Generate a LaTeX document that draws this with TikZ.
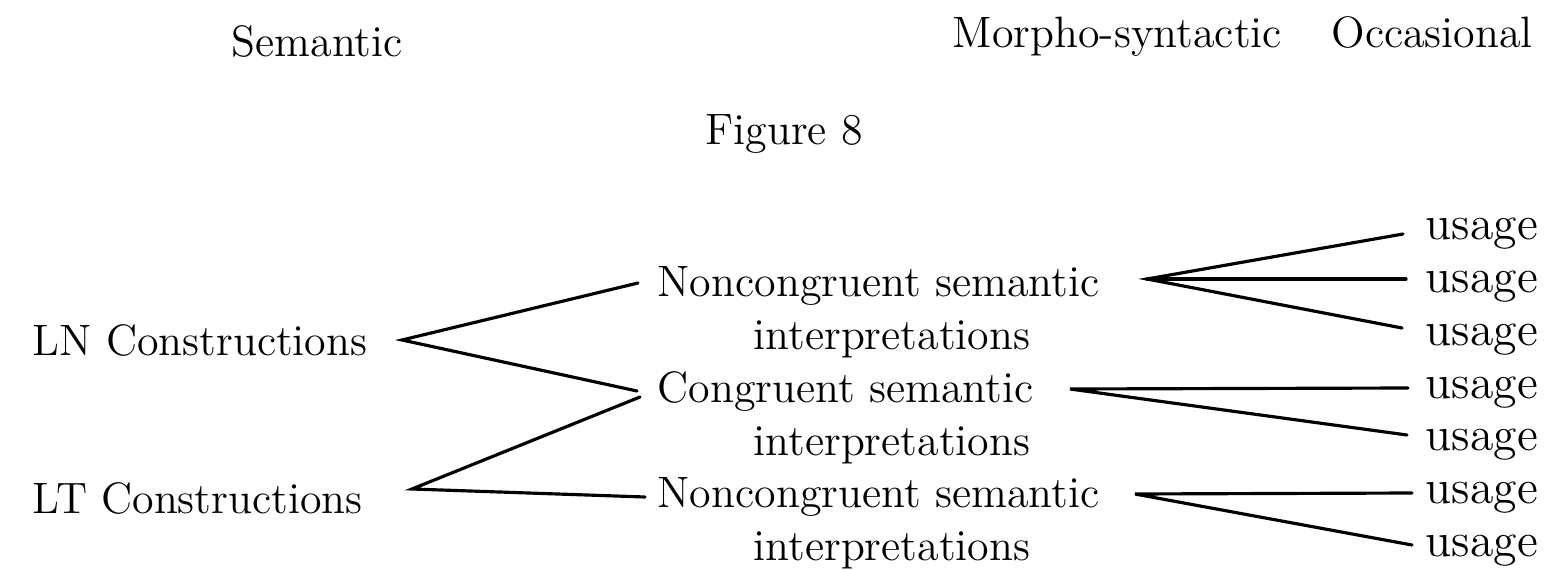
\documentclass[tikz,border=0pt]{standalone}
\begin{document}
\begin{tikzpicture}[x=0.01cm,y=-0.01cm,
  txt/.style={inner sep=0pt, anchor=base west, font=\fontsize{12.5pt}{15pt}\selectfont},
  utxt/.style={inner sep=0pt, anchor=base west, font=\fontsize{13.6pt}{16pt}\selectfont},
  conn/.style={line width=0.9pt, line cap=round}]
\useasboundingbox (0,0) rectangle (1545,570);
% headings
\node[txt] (sem) at (231,57) {Semantic};
\node[txt] (morph) at (952,48) {Morpho-syntactic};
\node[txt] (occ) at (1331,48) {Occasional};
\node[txt] (fig) at (705,145) {Figure 8};
% left column
\node[txt] (ln) at (32,355) {LN Constructions};
\node[txt] (lt) at (32,513) {LT Constructions};
% middle column
\node[txt] (nc1) at (657,297) {Noncongruent semantic};
\node[txt] (nc1b) at (753,350) {interpretations};
\node[txt] (cg) at (657,402) {Congruent semantic};
\node[txt] (cgb) at (753,455) {interpretations};
\node[txt] (nc2) at (657,507) {Noncongruent semantic};
\node[txt] (nc2b) at (753,560) {interpretations};
% right column
\node[utxt] (u1) at (1425,239) {usage};
\node[utxt] (u2) at (1425,292) {usage};
\node[utxt] (u3) at (1425,345) {usage};
\node[utxt] (u4) at (1425,398) {usage};
\node[utxt] (u5) at (1425,450) {usage};
\node[utxt] (u6) at (1425,503) {usage};
\node[utxt] (u7) at (1425,556) {usage};
% connector points
\coordinate (lnA) at (402,340);
\coordinate (ltA) at (412,489);
\coordinate (nc1L) at (638,283);
\coordinate (cgL1) at (637,391);
\coordinate (cgL2) at (640,397);
\coordinate (nc2L) at (645,497);
\coordinate (nc1R) at (1147,279);
\coordinate (cgR) at (1070,389);
\coordinate (nc2R) at (1135,494);
\coordinate (e1) at (1403,234);
\coordinate (e2) at (1406,279);
\coordinate (e3) at (1402,328);
\coordinate (e4) at (1408,388);
\coordinate (e5) at (1407,435);
\coordinate (e6) at (1412,493);
\coordinate (e7) at (1412,545);
% connectors
\draw[conn] (nc1L) -- (lnA) -- (cgL1);
\draw[conn] (cgL2) -- (ltA) -- (nc2L);
\draw[conn] (e1) -- (nc1R) -- (e3);
\draw[conn] (nc1R) -- (e2);
\draw[conn] (e4) -- (cgR) -- (e5);
\draw[conn] (e6) -- (nc2R) -- (e7);
\end{tikzpicture}
\end{document}
